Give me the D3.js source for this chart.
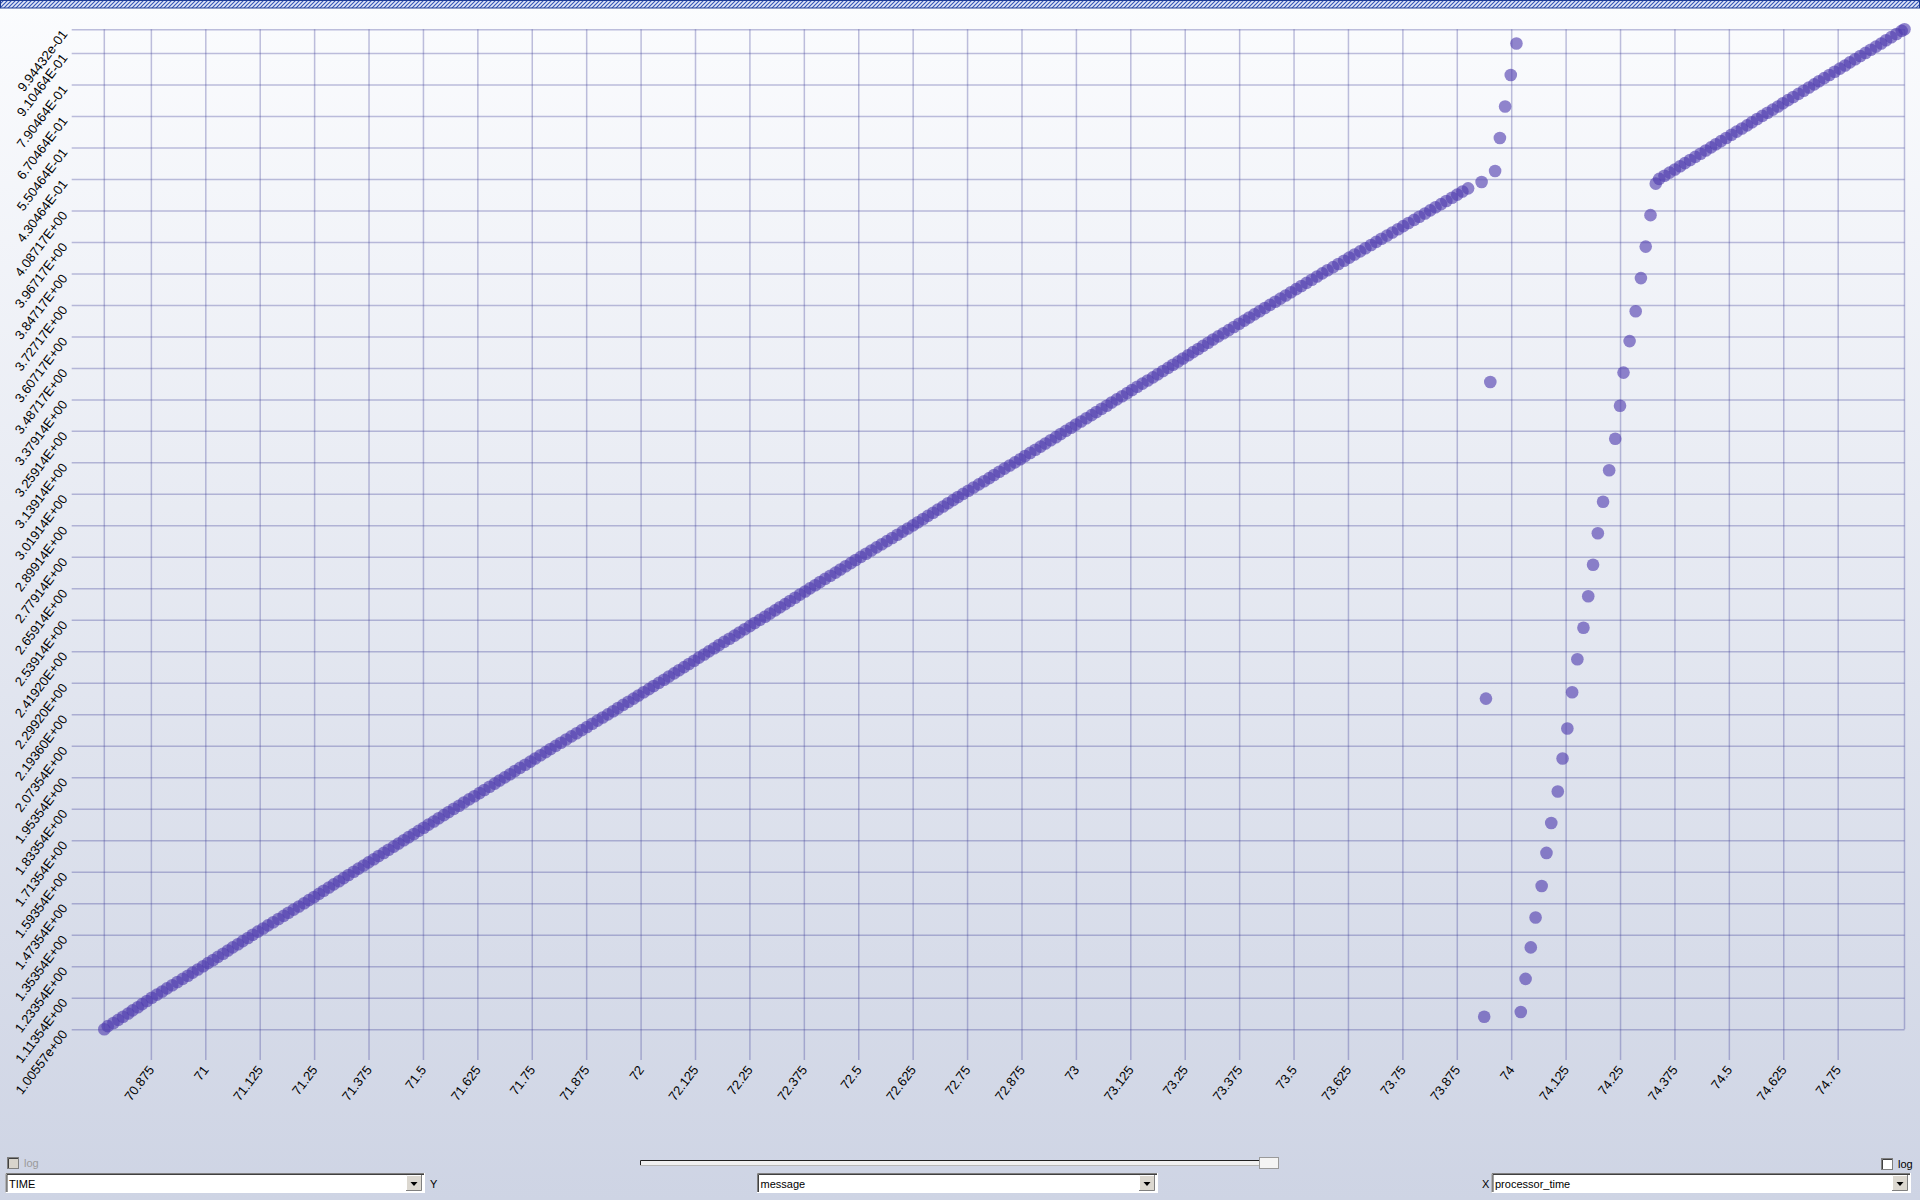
<!DOCTYPE html>
<html><head><meta charset="utf-8">
<script src="https://cdn.jsdelivr.net/npm/d3@7"></script>
<style>
html,body{margin:0;padding:0;width:1920px;height:1200px;overflow:hidden;background:#e6e9f2;}
svg text{font-family:"Liberation Sans",Arial,sans-serif;}
</style></head><body>
<svg id="c" width="1920" height="1200"></svg>
<script>
// ---------- data ----------
const xTicks = [70.875,71,71.125,71.25,71.375,71.5,71.625,71.75,71.875,72,72.125,72.25,72.375,72.5,72.625,72.75,72.875,73,73.125,73.25,73.375,73.5,73.625,73.75,73.875,74,74.125,74.25,74.375,74.5,74.625,74.75];
// y is the rank of the TIME string (sorted as text); ticks every 20 ranks plus the last one
const yTickRanks = [0,20,40,60,80,100,120,140,160,180,200,220,240,260,280,300,320,340,360,380,400,420,440,460,480,500,520,540,560,580,600,620,635];
const yTickLabels = ["1.00557e+00","1.11354E+00","1.23354E+00","1.35354E+00","1.47354E+00","1.59354E+00","1.71354E+00","1.83354E+00","1.95354E+00","2.07354E+00","2.19360E+00","2.29920E+00","2.41920E+00","2.53914E+00","2.65914E+00","2.77914E+00","2.89914E+00","3.01914E+00","3.13914E+00","3.25914E+00","3.37914E+00","3.48717E+00","3.60717E+00","3.72717E+00","3.84717E+00","3.96717E+00","4.08717E+00","4.30464E-01","5.50464E-01","6.70464E-01","7.90464E-01","9.10464E-01","9.94432e-01"];

// [processor_time, TIME rank]
const diagonal = [
[70.768,0],[70.776,2],[70.789,4],[70.800,6],[70.811,8],[70.823,10],[70.833,12],[70.845,14],[70.855,16],[70.866,18],
[70.877,20],[70.889,22],[70.901,24],[70.912,26],[70.924,28],[70.936,30],[70.948,32],[70.960,34],[70.971,36],[70.983,38],
[70.995,40],[71.006,42],[71.018,44],[71.029,46],[71.041,48],[71.052,50],[71.063,52],[71.075,54],[71.086,56],[71.098,58],
[71.109,60],[71.121,62],[71.133,64],[71.144,66],[71.156,68],[71.168,70],[71.180,72],[71.191,74],[71.203,76],[71.215,78],
[71.227,80],[71.238,82],[71.250,84],[71.261,86],[71.272,88],[71.284,90],[71.295,92],[71.307,94],[71.318,96],[71.329,98],
[71.341,100],[71.352,102],[71.364,104],[71.375,106],[71.387,108],[71.398,110],[71.410,112],[71.421,114],[71.433,116],[71.444,118],
[71.456,120],[71.467,122],[71.479,124],[71.490,126],[71.502,128],[71.513,130],[71.525,132],[71.536,134],[71.548,136],[71.559,138],
[71.571,140],[71.583,142],[71.594,144],[71.606,146],[71.618,148],[71.630,150],[71.641,152],[71.653,154],[71.665,156],[71.676,158],
[71.688,160],[71.700,162],[71.711,164],[71.723,166],[71.735,168],[71.747,170],[71.758,172],[71.770,174],[71.782,176],[71.793,178],
[71.805,180],[71.817,182],[71.829,184],[71.841,186],[71.853,188],[71.865,190],[71.877,192],[71.889,194],[71.901,196],[71.913,198],
[71.925,200],[71.937,202],[71.948,204],[71.960,206],[71.972,208],[71.984,210],[71.995,212],[72.007,214],[72.019,216],[72.030,218],
[72.042,220],[72.054,222],[72.065,224],[72.077,226],[72.088,228],[72.100,230],[72.111,232],[72.123,234],[72.134,236],[72.146,238],
[72.157,240],[72.169,242],[72.180,244],[72.192,246],[72.204,248],[72.216,250],[72.227,252],[72.239,254],[72.251,256],[72.262,258],
[72.274,260],[72.286,262],[72.297,264],[72.309,266],[72.320,268],[72.332,270],[72.343,272],[72.355,274],[72.366,276],[72.378,278],
[72.389,280],[72.401,282],[72.412,284],[72.424,286],[72.436,288],[72.448,290],[72.459,292],[72.471,294],[72.483,296],[72.494,298],
[72.506,300],[72.518,302],[72.530,304],[72.542,306],[72.554,308],[72.566,310],[72.578,312],[72.590,314],[72.602,316],[72.614,318],
[72.626,320],[72.637,322],[72.649,324],[72.660,326],[72.672,328],[72.683,330],[72.695,332],[72.706,334],[72.718,336],[72.729,338],
[72.741,340],[72.753,342],[72.765,344],[72.777,346],[72.789,348],[72.801,350],[72.812,352],[72.824,354],[72.836,356],[72.848,358],
[72.860,360],[72.872,362],[72.883,364],[72.895,366],[72.907,368],[72.919,370],[72.930,372],[72.942,374],[72.954,376],[72.965,378],
[72.977,380],[72.989,382],[73.000,384],[73.012,386],[73.024,388],[73.036,390],[73.047,392],[73.059,394],[73.071,396],[73.082,398],
[73.094,400],[73.106,402],[73.118,404],[73.129,406],[73.141,408],[73.153,410],[73.165,412],[73.177,414],[73.188,416],[73.200,418],
[73.212,420],[73.223,422],[73.235,424],[73.246,426],[73.258,428],[73.269,430],[73.281,432],[73.292,434],[73.304,436],[73.315,438],
[73.327,440],[73.339,442],[73.351,444],[73.363,446],[73.375,448],[73.387,450],[73.398,452],[73.410,454],[73.422,456],[73.434,458],
[73.446,460],[73.458,462],[73.470,464],[73.482,466],[73.494,468],[73.506,470],[73.518,472],[73.530,474],[73.542,476],[73.554,478],
[73.566,480],[73.578,482],[73.591,484],[73.603,486],[73.616,488],[73.628,490],[73.640,492],[73.653,494],[73.665,496],[73.678,498],
[73.690,500],[73.702,502],[73.715,504],[73.727,506],[73.740,508],[73.752,510],[73.764,512],[73.777,514],[73.789,516],[73.802,518],
[73.814,520],[73.826,522],[73.839,524],[73.851,526],[73.864,528],[73.876,530],[73.888,532],[73.901,534]
];
const upperRise = [[73.932,538],[73.963,545],[73.974,566],[73.986,586],[73.999,606],[74.012,626]];
const strays = [[73.938,8],[73.942,210],[73.952,411]];
const risingCurve = [
[74.022,11],[74.033,32],[74.045,52],[74.056,71],[74.070,91],[74.081,112],[74.092,131],[74.107,151],[74.118,172],
[74.129,191],[74.140,214],[74.152,235],[74.166,255],[74.177,275],[74.188,295],[74.199,315],[74.211,335],[74.225,355],
[74.239,375],[74.250,396],[74.258,417],[74.272,437],[74.286,456],[74.298,477],[74.309,497],[74.320,517],[74.332,537]
];
const rightDiagonal = [
[74.340,540],[74.352,542],[74.364,544],[74.376,546],[74.388,548],[74.399,550],[74.411,552],[74.423,554],[74.435,556],[74.447,558],
[74.459,560],[74.470,562],[74.482,564],[74.494,566],[74.506,568],[74.518,570],[74.530,572],[74.542,574],[74.553,576],[74.565,578],
[74.577,580],[74.589,582],[74.601,584],[74.613,586],[74.624,588],[74.636,590],[74.648,592],[74.660,594],[74.672,596],[74.684,598],
[74.696,600],[74.707,602],[74.719,604],[74.731,606],[74.743,608],[74.755,610],[74.767,612],[74.778,614],[74.790,616],[74.802,618],
[74.814,620],[74.826,622],[74.838,624],[74.850,626],[74.861,628],[74.873,630],[74.885,632],[74.897,634],[74.9035,635]
];
const yField = "TIME", xField = "processor_time", colorField = "message";

// ---------- drawing ----------
const W = 1920, H = 1200;
const plot = {left:104.3, right:1904.5, top:29.3, bottom:1029.3, tickLeft:71.7, tickBottom:1060};
const svg = d3.select('#c');
const defs = svg.append('defs');
const bg = defs.append('linearGradient').attr('id','bg').attr('x1',0).attr('y1',0).attr('x2',0).attr('y2',1);
bg.append('stop').attr('offset','0%').attr('stop-color','#fbfcfe');
bg.append('stop').attr('offset','100%').attr('stop-color','#ced4e4');
svg.append('rect').attr('width',W).attr('height',H).attr('fill','url(#bg)');

const pat = defs.append('pattern').attr('id','hatch').attr('patternUnits','userSpaceOnUse').attr('width',4).attr('height',4);
pat.append('rect').attr('width',4).attr('height',4).attr('fill','#e2e8f8');
pat.append('path').attr('d','M-1,1 L1,-1 M0,4 L4,0 M3,5 L5,3').attr('stroke','#3656b8').attr('stroke-width',1.2);
svg.append('rect').attr('x',0.5).attr('y',0.5).attr('width',W-1).attr('height',7.5)
  .attr('fill','url(#hatch)').attr('stroke','#1e3c94').attr('stroke-width',1);

const allPts = diagonal.concat(upperRise, strays, risingCurve, rightDiagonal);
const x = d3.scaleLinear().domain(d3.extent(allPts, d => d[0])).range([plot.left, plot.right]);
const y = d3.scaleLinear().domain(d3.extent(yTickRanks)).range([plot.bottom, plot.top]);
const gridColor = 'rgba(60,60,150,0.32)';

const gx = svg.append('g').attr('transform', `translate(0,${plot.tickBottom})`)
  .call(d3.axisBottom(x).tickValues(xTicks).tickSize(-(plot.tickBottom - plot.top)).tickFormat(d => String(d)));
gx.select('.domain').remove();
gx.selectAll('.tick line').attr('stroke', gridColor).attr('stroke-width', 1.5);
gx.selectAll('.tick text').attr('x', 0).attr('y', 0).attr('dy', null)
  .attr('transform', 'translate(3.5,10) rotate(-53)').attr('text-anchor', 'end')
  .attr('fill', '#000').style('font-size', '13px');

const gy = svg.append('g').attr('transform', `translate(${plot.tickLeft},0)`)
  .call(d3.axisLeft(y).tickValues(yTickRanks).tickSize(-(plot.right - plot.tickLeft)).tickFormat((d, i) => yTickLabels[i]));
gy.select('.domain').remove();
gy.selectAll('.tick line').attr('stroke', gridColor).attr('stroke-width', 1.5);
gy.selectAll('.tick text').attr('x', 0).attr('y', 0).attr('dy', null)
  .attr('transform', 'translate(-3.7,4.5) rotate(-53)').attr('text-anchor', 'end')
  .attr('fill', '#000').style('font-size', '13px');

svg.append('g').selectAll('line').data(d3.extent(allPts, d => d[0])).join('line')
  .attr('x1', d => x(d)).attr('x2', d => x(d)).attr('y1', plot.top).attr('y2', plot.bottom)
  .attr('stroke', gridColor).attr('stroke-width', 1.5);

svg.append('g').selectAll('circle').data(allPts).join('circle')
  .attr('cx', d => x(d[0])).attr('cy', d => y(d[1])).attr('r', 6.3)
  .attr('fill', '#4f3caf').attr('fill-opacity', 0.62);

// ---------- controls ----------
const ui = svg.append('g');
function checkbox(cx, cy, enabled, label) {
  ui.append('rect').attr('x', cx + 0.5).attr('y', cy + 0.5).attr('width', 11).attr('height', 11)
    .attr('fill', enabled ? '#ffffff' : '#d8d4cc').attr('stroke', '#808080');
  ui.append('path').attr('d', `M${cx+1.5},${cy+11} V${cy+1.5} H${cx+11}`).attr('fill', 'none').attr('stroke', '#404040');
  ui.append('text').attr('x', cx + 17).attr('y', cy + 9.5).text(label)
    .attr('fill', enabled ? '#000' : '#9a9a9a').style('font-size', '11px');
}
function combo(x0, x1, label) {
  const y0 = 1173, h = 20;
  ui.append('rect').attr('x', x0).attr('y', y0).attr('width', x1 - x0).attr('height', h).attr('fill', '#ffffff');
  ui.append('path').attr('d', `M${x0+0.5},${y0+h} V${y0+0.5} H${x1}`).attr('fill', 'none').attr('stroke', '#7f7f7f');
  ui.append('path').attr('d', `M${x0+1.5},${y0+h-1} V${y0+1.5} H${x1-1}`).attr('fill', 'none').attr('stroke', '#404040');
  ui.append('path').attr('d', `M${x0},${y0+h-0.5} H${x1-0.5} V${y0}`).attr('fill', 'none').attr('stroke', '#ffffff');
  const bx = x1 - 19, by = y0 + 2;
  ui.append('rect').attr('x', bx).attr('y', by).attr('width', 16).attr('height', 16).attr('fill', '#dcd8d0');
  ui.append('path').attr('d', `M${bx+0.5},${by+16} V${by+0.5} H${bx+16}`).attr('fill', 'none').attr('stroke', '#ffffff');
  ui.append('path').attr('d', `M${bx},${by+15.5} H${bx+15.5} V${by}`).attr('fill', 'none').attr('stroke', '#808080');
  ui.append('path').attr('d', `M${bx+4.5},${by+7} h7 l-3.5,4 z`).attr('fill', '#000');
  ui.append('text').attr('x', x0 + 3.5).attr('y', y0 + 15).text(label).attr('fill', '#000').style('font-size', '11px');
}
checkbox(7, 1157, false, 'log');
checkbox(1881, 1158, true, 'log');
combo(5.5, 425, yField);
ui.append('text').attr('x', 430).attr('y', 1188).text('Y').style('font-size', '11px').attr('fill', '#000');
combo(757, 1158, colorField);
ui.append('text').attr('x', 1482).attr('y', 1188).text('X').style('font-size', '11px').attr('fill', '#000');
combo(1491.5, 1911, xField);
// slider
ui.append('rect').attr('x', 640).attr('y', 1160).attr('width', 621).attr('height', 6).attr('fill', '#f0f0f0');
ui.append('path').attr('d', 'M640.5,1166 V1160.5 H1261').attr('fill', 'none').attr('stroke', '#202020');
ui.append('path').attr('d', 'M640,1165.5 H1261').attr('fill', 'none').attr('stroke', '#b8b8b8');
ui.append('rect').attr('x', 1259.5).attr('y', 1157.5).attr('width', 19).attr('height', 11)
  .attr('fill', '#f4f4f4').attr('stroke', '#9a9a9a');
</script>
</body></html>
